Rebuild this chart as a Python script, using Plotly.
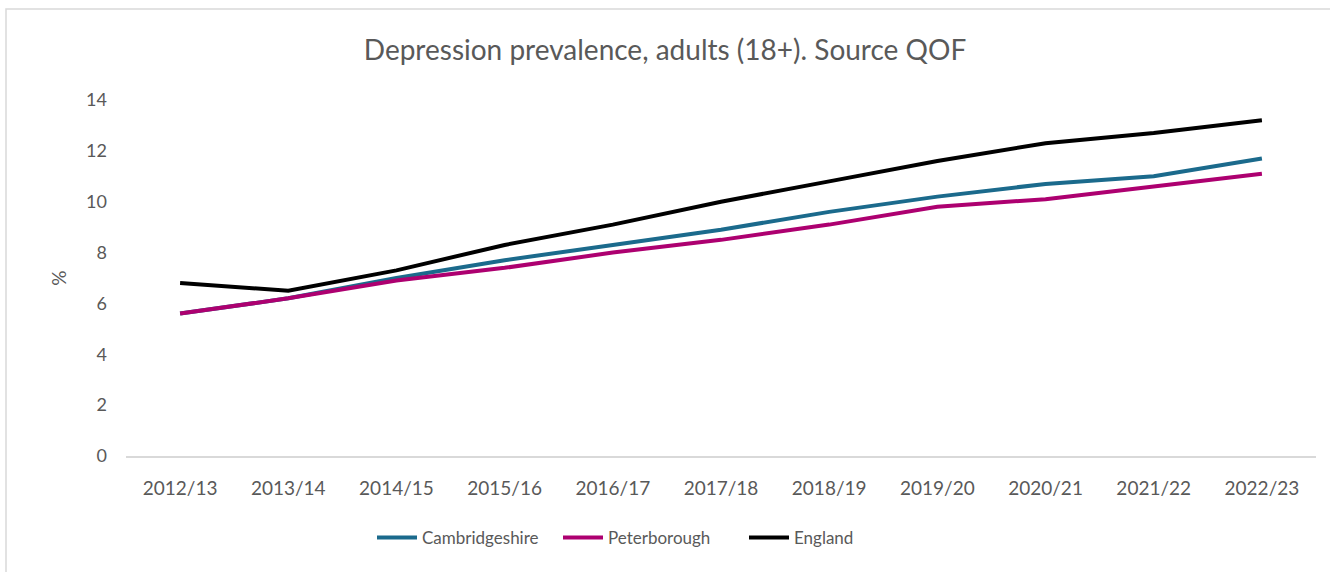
import plotly.graph_objects as go

years = ["2012/13", "2013/14", "2014/15", "2015/16", "2016/17", "2017/18",
         "2018/19", "2019/20", "2020/21", "2021/22", "2022/23"]
cambridgeshire = [5.6, 6.2, 7.0, 7.7, 8.3, 8.9, 9.6, 10.2, 10.7, 11.0, 11.7]
peterborough = [5.6, 6.2, 6.9, 7.4, 8.0, 8.5, 9.1, 9.8, 10.1, 10.6, 11.1]
england = [6.8, 6.5, 7.3, 8.3, 9.1, 10.0, 10.8, 11.6, 12.3, 12.7, 13.2]
y_ticks = [0, 2, 4, 6, 8, 10, 12, 14]

W, H = 1330, 572
L, R, T, B = 126, 14, 100, 116
pw, ph = W - L - R, H - T - B

fig = go.Figure()
for name, vals, col in [("Cambridgeshire", cambridgeshire, "#1b6a8c"),
                        ("Peterborough", peterborough, "#ad0070"),
                        ("England", england, "#000000")]:
    fig.add_trace(go.Scatter(x=years, y=vals, name=name, mode="lines",
                             line=dict(color=col, width=4)))

fig.update_layout(
    width=W, height=H,
    margin=dict(l=L, r=R, t=T, b=B),
    paper_bgcolor="white", plot_bgcolor="white",
    font=dict(family="Lato, 'Open Sans', sans-serif", color="#595959", size=16),
    title=dict(text="Depression prevalence, adults (18+). Source QOF",
               x=0.5, xanchor="center", y=1 - 50 / H, yanchor="middle",
               font=dict(size=28, color="#595959")),
    xaxis=dict(type="category", showgrid=False, showline=True,
               linecolor="#d9d9d9", linewidth=1.5, ticks="",
               ticklabelstandoff=14,
               tickfont=dict(size=19, color="#595959"), range=[-0.5, 10.5]),
    yaxis=dict(range=[0, 14], tickvals=y_ticks, showgrid=False, zeroline=False,
               showline=False, ticks="", ticklen=0, ticklabelstandoff=18,
               tickfont=dict(size=18, color="#595959"),
               title=dict(text="%", font=dict(size=19, color="#595959"), standoff=14)),
    legend=dict(orientation="h", x=(651 - L) / pw, xanchor="center",
                y=(H - 538 - B) / ph, yanchor="middle",
                font=dict(size=17, color="#595959"), itemwidth=40,
                entrywidth=131, entrywidthmode="pixels",
                tracegroupgap=0),
    showlegend=True,
)
fig.add_shape(type="rect", xref="paper", yref="paper",
              x0=(6 - L) / pw, x1=(W + 10 - L) / pw,
              y0=(-10 - B) / ph, y1=(H - 9 - B) / ph,
              line=dict(color="#d9d9d9", width=1.5), fillcolor="rgba(0,0,0,0)",
              layer="below")
fig.write_html("out.html")
